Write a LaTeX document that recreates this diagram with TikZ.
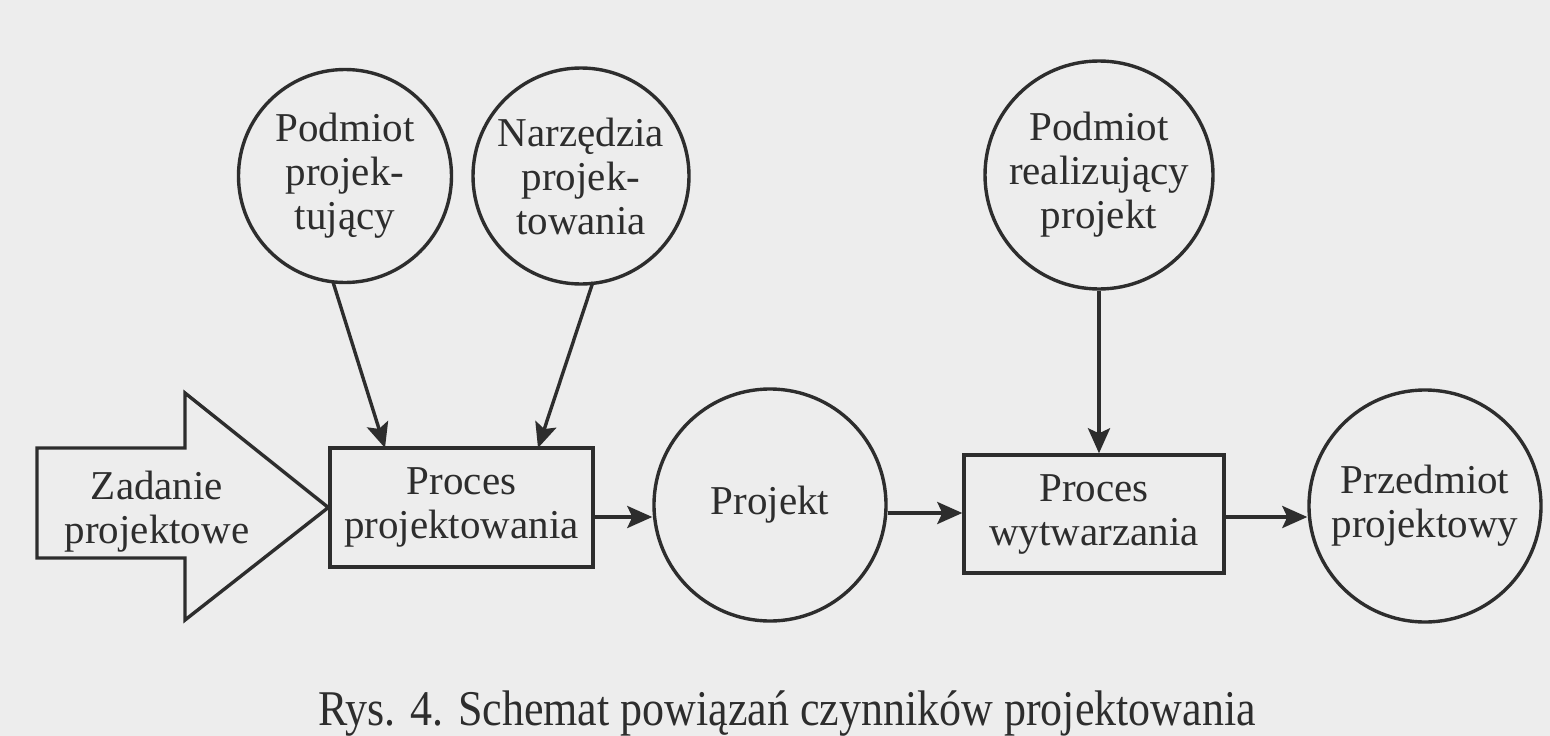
\documentclass[tikz,border=0pt]{standalone}
\usepackage{fontspec}
\setmainfont{Liberation Serif}
\usetikzlibrary{arrows.meta}
\definecolor{paper}{RGB}{237,237,237}
\definecolor{ink}{RGB}{45,45,45}
\tikzset{
  lbl/.style={font=\fontsize{41}{44}\selectfont, text=ink, align=center},
  circ/.style={lbl, circle, draw=ink, line width=3.4pt, inner sep=0pt},
  procbox/.style={lbl, rectangle, draw=ink, line width=3.4pt, inner sep=0pt},
  conn/.style={draw=ink, line width=3.4pt, -{Stealth[length=25pt,width=22pt,inset=5pt]}},
}
\begin{document}
\begin{tikzpicture}[x=1pt,y=-1pt]
\fill[paper] (0,0) rectangle (1550,736);
\useasboundingbox (0,0) rectangle (1550,736);
% top circles
\node[circ, minimum size=213pt] (pp) at (345,176) {Podmiot\\projek-\\tujący};
\node[circ, minimum size=216pt] (np) at (581,176) {Narzędzia\\projek-\\towania};
\node[circ, minimum size=228pt] (pr) at (1099,175) {Podmiot\\realizujący\\projekt};
% process boxes
\node[procbox, minimum width=263pt, minimum height=119pt] (proj) at (461.5,507.5) {Proces\\projektowania};
\node[procbox, minimum width=260pt, minimum height=118pt] (wytw) at (1094,514) {Proces\\wytwarzania};
% bottom circles
\node[circ, minimum size=232pt] (projekt) at (770,505) {Projekt};
\node[circ, minimum size=232pt] (przed) at (1425,506) {Przedmiot\\projektowy};
% big input arrow
\coordinate (tip) at (proj.west);
\draw[ink, line width=3.4pt, line join=miter] (37,448) -- (185,448) -- (185,393) -- (tip) -- (185,620) -- (185,558) -- (37,558) -- cycle;
\node[lbl] (zad) at (157,512) {Zadanie\\projektowe};
% connectors
\coordinate (a1) at (333,282);
\coordinate (a2) at (593,282);
\draw[conn] (a1) -- (385,448);
\draw[conn] (a2) -- (538,448);
\draw[conn] (pr.south) -- (wytw.north -| pr.south);
\draw[conn] (proj.east |- 0,517) -- (projekt.west |- 0,517);
\draw[conn] (projekt.east |- 0,513) -- (wytw.west |- 0,513);
\draw[conn] (wytw.east |- 0,517) -- (przed.west |- 0,517);
% caption
\node[text=ink, anchor=base] (cap) at (787,725) {\fontsize{50}{56}\selectfont\scalebox{0.88}[1]{Rys. 4. Schemat powiązań czynników projektowania}};
\end{tikzpicture}
\end{document}
